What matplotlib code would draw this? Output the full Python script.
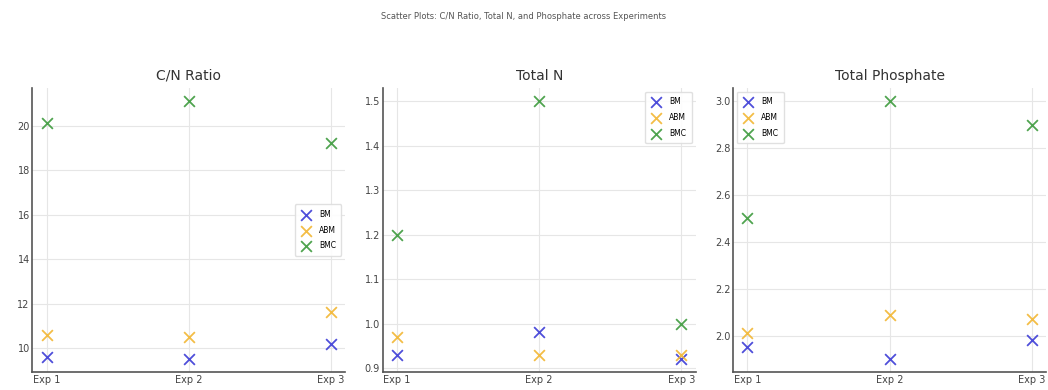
import matplotlib
matplotlib.use("Agg")
import matplotlib.pyplot as plt

experiments = ["Exp 1", "Exp 2", "Exp 3"]
series_names = ["BM", "ABM", "BMC"]
cn_bm = [9.6, 9.5, 10.2]
cn_abm = [10.6, 10.5, 11.6]
cn_bmc = [20.1, 21.1, 19.2]
n_bm = [0.93, 0.98, 0.92]
n_abm = [0.97, 0.93, 0.93]
n_bmc = [1.2, 1.5, 1.0]
p_bm = [1.95, 1.90, 1.98]
p_abm = [2.01, 2.09, 2.07]
p_bmc = [2.5, 3.0, 2.9]

colors = ["#3b3bd6", "#f2b632", "#3c9a3c"]
panels = [
    ("C/N Ratio", [cn_bm, cn_abm, cn_bmc], "center right"),
    ("Total N", [n_bm, n_abm, n_bmc], "upper right"),
    ("Total Phosphate", [p_bm, p_abm, p_bmc], "upper left"),
]

fig, axes = plt.subplots(1, 3, figsize=(10.48, 3.9), dpi=100)
fig.subplots_adjust(left=0.031, right=0.998, bottom=0.046, top=0.774, wspace=0.12)
fig.suptitle("Scatter Plots: C/N Ratio, Total N, and Phosphate across Experiments",
             fontsize=6, color="#555555", y=0.97)

for ax, (title, data, loc) in zip(axes, panels):
    for name, vals, c in zip(series_names, data, colors):
        ax.scatter(experiments, vals, marker="x", s=60, linewidths=1.3, color=c,
                   label=name, zorder=3, alpha=0.9)
    ax.set_title(title, fontsize=10, color="#333333", pad=6)
    ax.grid(True, color="#e6e6e6", linewidth=0.8)
    ax.set_axisbelow(True)
    for s in ["top", "right"]:
        ax.spines[s].set_visible(False)
    for s in ["left", "bottom"]:
        ax.spines[s].set_color("#555555")
        ax.spines[s].set_linewidth(1.2)
    ax.tick_params(labelsize=7, colors="#444444", length=0, pad=2)
    ax.legend(loc=loc, fontsize=5.5, frameon=True, framealpha=0.9,
              edgecolor="#dddddd", borderpad=0.7, labelspacing=0.9,
              handletextpad=1.0, handlelength=1.5)

fig.savefig("out.png", dpi=100)
